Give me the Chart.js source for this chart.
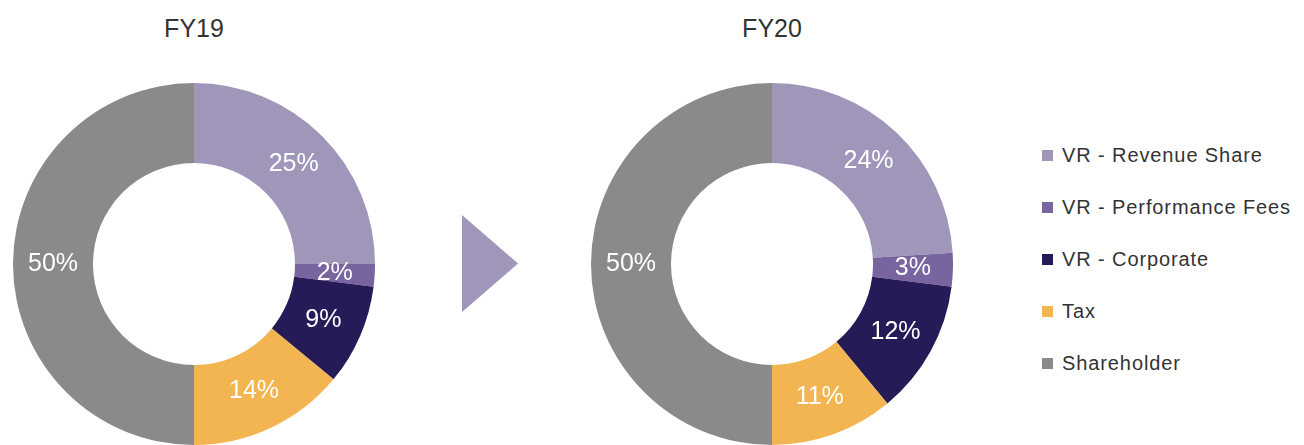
<!DOCTYPE html>
<html>
<head>
<meta charset="utf-8">
<script src="https://cdn.jsdelivr.net/npm/chart.js@4.4.1/dist/chart.umd.min.js"></script>
<style>
  html, body { margin: 0; padding: 0; background: #fff; overflow: hidden; }
  body { width: 1304px; height: 445px; position: relative; font-family: "Liberation Sans", Arial, sans-serif; }
  .box { position: absolute; width: 362px; height: 362px; top: 83px; }
  .title { position: absolute; top: 16px; width: 200px; text-align: center; font-size: 25px; line-height: 25px; color: #333; }
  .arrow { position: absolute; left: 462px; top: 215px; width: 56px; height: 97px; background: #A096BA;
           clip-path: polygon(0 0, 100% 50%, 0 100%); }
  .legend { position: absolute; left: 1042px; top: 145px; color: #333; font-size: 20px; letter-spacing: 0.9px; }
  .legend .item { height: 52px; }
  .legend .row { display: flex; align-items: center; height: 20px; line-height: 20px; white-space: nowrap; }
  .legend .sw { display: inline-block; width: 11px; height: 11px; margin-right: 9px; flex: none; }
</style>
</head>
<body>
<div class="title" style="left:94px">FY19</div>
<div class="title" style="left:672px">FY20</div>
<div class="box" style="left:13px"><canvas id="c1"></canvas></div>
<div class="arrow"></div>
<div class="box" style="left:591px"><canvas id="c2"></canvas></div>
<div class="legend" id="legend"></div>
<script>
const categories = ["VR - Revenue Share", "VR - Performance Fees", "VR - Corporate", "Tax", "Shareholder"];
const fy19 = [25, 2, 9, 14, 50];
const fy20 = [24, 3, 12, 11, 50];
const colors = ["#A096BA", "#78649E", "#271B57", "#F2B552", "#8A8A8A"];

const labelPlugin = {
  id: 'sliceLabels',
  afterDatasetsDraw(chart) {
    const ctx = chart.ctx;
    const meta = chart.getDatasetMeta(0);
    const data = chart.data.datasets[0].data;
    ctx.save();
    ctx.fillStyle = '#ffffff';
    ctx.font = '25px "Liberation Sans", Arial, sans-serif';
    ctx.textAlign = 'center';
    ctx.textBaseline = 'middle';
    meta.data.forEach((arc, i) => {
      const p = arc.tooltipPosition();
      ctx.fillText(data[i] + '%', p.x, p.y);
    });
    ctx.restore();
  }
};

function makeChart(id, values) {
  return new Chart(document.getElementById(id), {
    type: 'doughnut',
    data: {
      labels: categories,
      datasets: [{ data: values, backgroundColor: colors, borderWidth: 0 }]
    },
    options: {
      responsive: true,
      maintainAspectRatio: false,
      animation: false,
      cutout: '55.8%',
      layout: { padding: 0 },
      plugins: { legend: { display: false }, tooltip: { enabled: false } }
    },
    plugins: [labelPlugin]
  });
}
makeChart('c1', fy19);
makeChart('c2', fy20);

const lg = document.getElementById('legend');
categories.forEach((c, i) => {
  const d = document.createElement('div');
  d.className = 'item';
  d.innerHTML = '<div class="row"><span class="sw" style="background:' + colors[i] + '"></span><span>' + c + '</span></div>';
  lg.appendChild(d);
});
</script>
</body>
</html>
